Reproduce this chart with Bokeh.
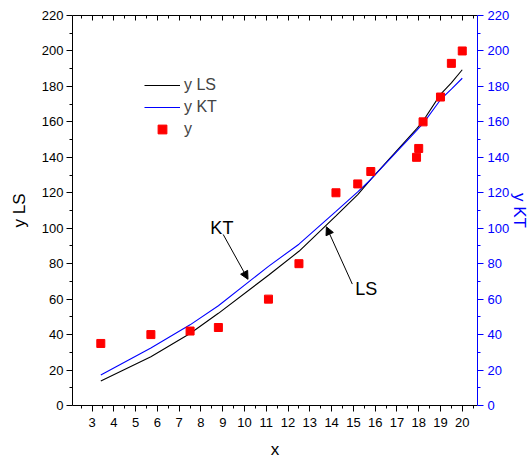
from bokeh.plotting import figure
from bokeh.models import (Range1d, LinearAxis, FixedTicker, Legend, LegendItem,
                          Arrow, NormalHead, ColumnDataSource, CustomJSTickFormatter)
from bokeh.core.properties import value
from bokeh.embed import file_html
from bokeh.resources import INLINE

# ---- data ----
x = [3.4, 5.7, 7.5, 8.8, 11.1, 12.5, 14.2, 15.2, 15.8, 17.9, 18.0, 18.2, 19.0, 19.5, 20.0]
y = [35, 40, 42, 44, 60, 80, 120, 125, 132, 140, 145, 160, 174, 193, 200]
y_ls = [13.8, 27.5, 40.6, 52.0, 73.5, 87.0, 107.0, 119.0, 127.5, 156.0, 157.5, 160.5, 175.5, 182.0, 189.4]
y_kt = [17.2, 32.4, 45.5, 56.3, 78.5, 91.0, 109.5, 120.5, 127.5, 155.0, 156.5, 159.0, 172.5, 178.5, 184.6]

x_ticks = [3, 4, 5, 6, 7, 8, 9, 10, 11, 12, 13, 14, 15, 16, 17, 18, 19, 20]
x_minor = [2.5, 3.5, 4.5, 5.5, 6.5, 7.5, 8.5, 9.5, 10.5, 11.5, 12.5, 13.5, 14.5, 15.5,
           16.5, 17.5, 18.5, 19.5, 20.5]
y_ticks = [0, 20, 40, 60, 80, 100, 120, 140, 160, 180, 200, 220]
y_minor = [10, 30, 50, 70, 90, 110, 130, 150, 170, 190, 210]

note_labels = ["KT", "LS"]
note_x = [8.96, 15.59]
note_y = [100.3, 65.6]
arrow_x0 = [9.02, 14.95]
arrow_y0 = [96.5, 68.5]
arrow_x1 = [10.16, 13.76]
arrow_y1 = [71.2, 100.8]

FONT = "Liberation Sans"
BLUE = "#0000FF"

p = figure(width=532, height=461, output_backend="svg", toolbar_location=None,
           x_range=Range1d(2.1, 20.7), y_range=Range1d(0, 220),
           min_border_left=72, min_border_right=54, min_border_top=15, min_border_bottom=56,
           x_axis_label="x", y_axis_label="y LS")
p.extra_y_ranges = {"kt": Range1d(0, 220)}
p.outline_line_color = None
p.xgrid.visible = False
p.ygrid.visible = False
p.background_fill_color = "white"
p.border_fill_color = "white"


def style_axis(ax, color, ticks, minor, standoff, lab_standoff):
    ax.ticker = FixedTicker(ticks=ticks, minor_ticks=minor)
    ax.axis_line_color = color
    ax.major_tick_line_color = color
    ax.minor_tick_line_color = color
    ax.major_tick_in = 0
    ax.major_tick_out = 6
    ax.minor_tick_in = 0
    ax.minor_tick_out = 3
    ax.major_label_text_color = color
    ax.major_label_text_font = FONT
    ax.major_label_text_font_size = "13px"
    ax.major_label_standoff = standoff
    ax.axis_label_text_color = color
    ax.axis_label_text_font = FONT
    ax.axis_label_text_font_size = "17px"
    ax.axis_label_text_font_style = "normal"
    ax.axis_label_standoff = lab_standoff


style_axis(p.xaxis[0], "black", x_ticks, x_minor, 6, 10)
style_axis(p.yaxis[0], "black", y_ticks, y_minor, 3, 10)

top = LinearAxis(formatter=CustomJSTickFormatter(code="return ''"))
top.ticker = FixedTicker(ticks=x_ticks, minor_ticks=x_minor)
top.major_tick_in = 5
top.major_tick_out = 0
top.minor_tick_in = 3
top.minor_tick_out = 0
top.major_label_text_font_size = "1px"
top.major_label_standoff = 0
p.add_layout(top, "above")

right = LinearAxis(y_range_name="kt", axis_label="y KT")
style_axis(right, BLUE, y_ticks, y_minor, 4, -2)
p.add_layout(right, "right")

src = ColumnDataSource(dict(x=x, y=y, y_ls=y_ls, y_kt=y_kt))
r_ls = p.line("x", "y_ls", source=src, line_color="black", line_width=1.1)
r_kt = p.line("x", "y_kt", source=src, line_color=BLUE, line_width=1.1)
r_y = p.scatter("x", "y", source=src, marker="square", size=8,
                fill_color="#FF0000", line_color="#FF0000")

notes = ColumnDataSource(dict(x=note_x, y=note_y, t=note_labels))
p.text("x", "y", text="t", source=notes, text_font=value(FONT), text_font_size="18px",
       text_align="center", text_baseline="middle", text_color="black")

arr = ColumnDataSource(dict(x0=arrow_x0, y0=arrow_y0, x1=arrow_x1, y1=arrow_y1))
p.add_layout(Arrow(x_start="x0", y_start="y0", x_end="x1", y_end="y1", source=arr,
                   line_color="black", line_width=1,
                   end=NormalHead(size=8, fill_color="black", line_color="black")))

# one single-item legend per entry, stacked like the original key
for i, (lab, rend) in enumerate([("y LS", r_ls), ("y KT", r_kt), ("y", r_y)]):
    lg = Legend(items=[LegendItem(label=lab, renderers=[rend])],
                location=(72, 265 + 22 * (2 - i)), glyph_width=36, glyph_height=22,
                label_height=22, spacing=0, padding=0, margin=0, label_standoff=4,
                background_fill_alpha=0, border_line_color=None,
                label_text_font=FONT, label_text_font_size="16px")
    p.add_layout(lg, "center")

open("out.html", "w").write(file_html(p, INLINE))
